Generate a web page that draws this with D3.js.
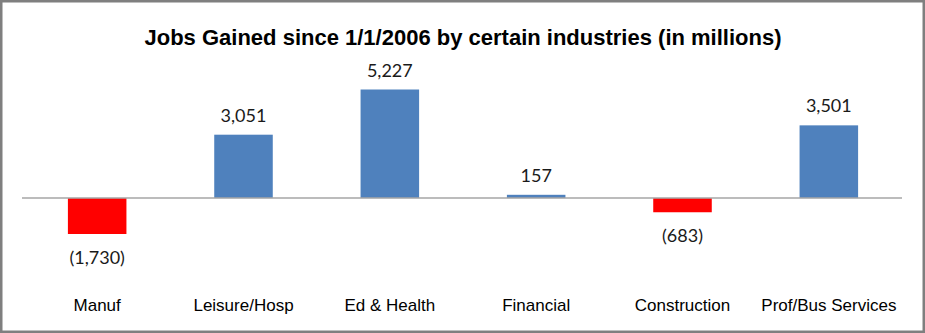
<!DOCTYPE html>
<html><head><meta charset="utf-8">
<script src="https://cdn.jsdelivr.net/npm/d3@7"></script>
<style>body{margin:0;background:#fff}svg{display:block}</style>
</head><body>
<svg id="c" width="925" height="333"></svg>
<script>
const categories = ["Manuf","Leisure/Hosp","Ed & Health","Financial","Construction","Prof/Bus Services"];
const values = [-1730, 3051, 5227, 157, -683, 3501];
const valueLabels = ["(1,730)","3,051","5,227","157","(683)","3,501"];
const title = "Jobs Gained since 1/1/2006 by certain industries (in millions)";

const svg = d3.select("#c");
const W = 925, H = 333;
svg.append("rect").attr("x",1.25).attr("y",1.25).attr("width",W-2.5).attr("height",H-2.5)
  .attr("fill","#fff").attr("stroke","#7f7f7f").attr("stroke-width",2.5);

const x = d3.scaleBand().domain(categories).range([24, 902]).paddingInner(0.6).paddingOuter(0.3);
const y = d3.scaleLinear().domain([-1730, 5227]).range([234, 89.5]);

svg.append("text").attr("x",463).attr("y",45).attr("text-anchor","middle")
  .attr("font-family","Liberation Sans, Arial, sans-serif").attr("font-weight","bold")
  .attr("font-size",22).attr("fill","#000").text(title);

svg.selectAll("rect.bar").data(values).join("rect").attr("class","bar")
  .attr("x",(d,i)=>x(categories[i])).attr("width",x.bandwidth())
  .attr("y",d=>y(Math.max(0,d))).attr("height",d=>Math.abs(y(d)-y(0)))
  .attr("fill",d=>d<0?"#ff0000":"#4f81bd");

svg.append("line").attr("x1",22).attr("x2",902).attr("y1",y(0)).attr("y2",y(0))
  .attr("stroke","#a6a6a6").attr("stroke-width",1.5);

svg.selectAll("text.val").data(values).join("text").attr("class","val")
  .attr("x",(d,i)=>x(categories[i])+x.bandwidth()/2)
  .attr("y",d=>d<0?y(d)+30:y(d)-13)
  .attr("text-anchor","middle").attr("font-family","Lato, Carlito, Calibri, sans-serif")
  .attr("font-size",18).attr("fill","#1a1a1a").text((d,i)=>valueLabels[i]);

const xAxis = d3.axisBottom(x).tickSize(0).tickPadding(0);
const g = svg.append("g").attr("transform","translate(0,300)").call(xAxis);
g.select(".domain").remove();
g.selectAll("text").attr("font-family","Liberation Sans, Arial, sans-serif")
  .attr("font-size",17).attr("fill","#000").attr("dy","0.32em").attr("y",6);
</script>
</body></html>
